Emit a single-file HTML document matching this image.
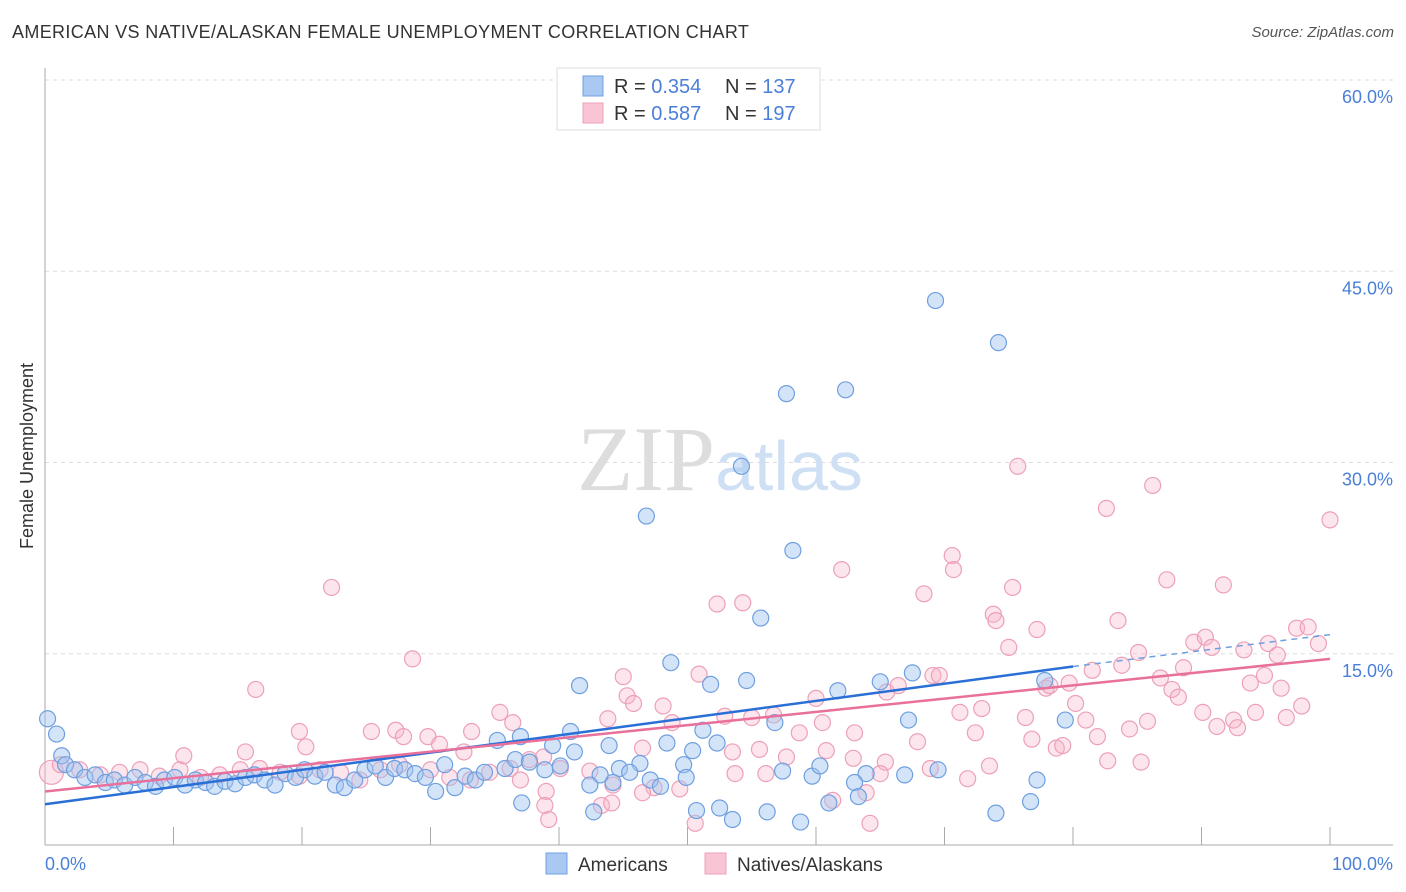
<!DOCTYPE html>
<html><head><meta charset="utf-8">
<style>
body{margin:0;background:#fff;font-family:"Liberation Sans",sans-serif;}
#wrap{position:relative;width:1406px;height:892px;overflow:hidden;}
.t{position:absolute;white-space:nowrap;}
</style></head>
<body>
<div id="wrap">
<div class="t" style="left:12px;top:22px;font-size:18px;color:#333;letter-spacing:0.35px">AMERICAN VS NATIVE/ALASKAN FEMALE UNEMPLOYMENT CORRELATION CHART</div>
<div class="t" style="right:12px;top:24px;font-size:15px;color:#555;font-style:italic">Source: ZipAtlas.com</div>
<svg id="chart" width="1406" height="892" style="position:absolute;left:0;top:0"></svg>
</div>
<script>
const xTickVals=[0,10,20,30,40,50,60,70,80,90,100];
const yTickVals=[15,30,45,60];
const yTickLabels=["15.0%","30.0%","45.0%","60.0%"];
const amX=[0.2,0.9,1.3,1.6,2.3,3.1,3.9,4.7,5.4,6.2,7.0,7.8,8.6,9.3,10.1,10.9,11.7,12.5,13.2,14.0,14.8,15.6,16.3,17.1,17.9,18.7,19.5,20.2,21.0,21.8,22.6,23.3,24.1,24.9,25.7,26.5,27.2,28.0,28.8,29.6,30.4,31.1,31.9,32.7,33.5,34.2,35.8,36.6,37.7,38.9,40.1,41.2,35.2,37.0,40.9,43.9,39.5,48.4,50.4,52.3,51.2,56.8,44.7,46.3,45.5,49.7,49.9,47.1,47.9,44.2,43.2,42.4,59.7,60.3,57.4,63.9,69.3,74.2,57.7,62.3,54.2,46.8,58.2,55.7,48.7,41.6,51.8,54.6,61.7,65.0,67.5,67.2,77.8,79.4,77.2,76.7,74.0,69.5,66.9,63.0,63.3,61.0,58.8,56.2,53.5,52.5,50.7,42.7,37.1];
const amY=[9.9,8.7,7.0,6.3,5.9,5.3,5.5,4.9,5.1,4.7,5.3,4.9,4.6,5.1,5.3,4.7,5.1,4.9,4.6,5.0,4.8,5.3,5.5,5.1,4.7,5.6,5.3,5.9,5.4,5.7,4.7,4.5,5.1,5.9,6.2,5.3,6.0,5.9,5.6,5.3,4.2,6.3,4.5,5.4,5.1,5.7,6.0,6.7,6.5,5.9,6.2,7.3,8.2,8.5,8.9,7.8,7.8,8.0,7.4,8.0,9.0,9.6,6.0,6.4,5.7,6.3,5.3,5.1,4.6,4.9,5.5,4.7,5.4,6.2,5.8,5.6,42.7,39.4,35.4,35.7,29.7,25.8,23.1,17.8,14.3,12.5,12.6,12.9,12.1,12.8,13.5,9.8,12.9,9.8,5.1,3.4,2.5,5.9,5.5,4.9,3.8,3.3,1.8,2.6,2.0,2.9,2.7,2.6,3.3];
const naX=[0.5,1.2,2.7,4.3,5.8,7.4,8.9,10.5,12.1,13.6,15.2,16.7,18.3,19.8,21.4,23.0,24.5,26.1,27.6,30.0,31.5,33.1,34.6,36.2,37.7,40.1,75.7,86.2,82.6,100,70.6,70.7,62.0,87.3,91.7,22.3,75.3,68.4,52.3,54.3,73.8,74.0,83.5,77.2,75.0,89.4,90.3,90.8,93.3,97.4,98.3,99.1,95.2,95.9,85.1,83.8,88.6,81.5,86.8,93.8,94.9,96.2,87.7,88.2,77.9,78.2,79.7,80.2,28.6,16.4,45.0,50.9,45.3,45.8,48.1,69.1,69.6,65.5,66.4,60.0,35.4,43.8,52.9,55.0,56.7,60.5,48.8,36.4,33.2,19.8,25.4,27.3,27.9,29.8,71.2,72.9,76.3,81.0,85.8,90.1,92.5,92.8,94.2,96.6,97.8,91.2,84.4,81.9,72.4,76.8,78.7,79.2,63.0,58.7,60.8,67.9,55.6,82.7,85.3,15.6,20.3,10.8,30.7,32.6,38.8,46.5,53.5,57.7,62.9,65.4,73.5,71.8,68.9,53.7,56.1,65.0,42.4,37.0,39.0,44.2,47.4,49.4,50.6,64.2,43.3,44.1,38.9,39.2,61.3,63.9,46.5];
const naY=[5.7,6.3,5.9,5.5,5.7,5.9,5.4,5.9,5.3,5.5,5.9,6.0,5.7,5.4,5.9,5.7,5.1,5.9,6.3,5.9,5.3,5.1,5.7,6.0,6.7,6.0,29.7,28.2,26.4,25.5,22.7,21.6,21.6,20.8,20.4,20.2,20.2,19.7,18.9,19.0,18.1,17.6,17.6,16.9,15.5,15.9,16.3,15.5,15.3,17.0,17.1,15.8,15.8,14.9,15.1,14.1,13.9,13.7,13.1,12.7,13.3,12.3,12.2,11.6,12.3,12.5,12.7,11.1,14.6,12.2,13.2,13.4,11.7,11.1,10.9,13.3,13.3,12.0,12.5,11.5,10.4,9.9,10.1,10.0,10.2,9.6,9.6,9.6,8.9,8.9,8.9,9.0,8.5,8.5,10.4,10.7,10.0,9.8,9.7,10.4,9.8,9.2,10.4,10.0,10.9,9.3,9.1,8.5,8.8,8.3,7.6,7.8,8.8,8.8,7.4,8.1,7.5,6.6,6.5,7.3,7.7,7.0,7.9,7.3,6.9,7.6,7.3,6.9,6.8,6.5,6.2,5.2,6.0,5.6,5.6,5.6,5.8,5.1,4.2,4.7,4.5,4.4,1.7,1.7,3.1,3.3,3.1,2.0,3.5,4.1,4.1];
const amLine=[3.2,14.0,16.5];
const naLine=[4.2,14.6];
const legendR=["0.354","0.587"], legendN=["137","197"];

const NS="http://www.w3.org/2000/svg", svg=document.getElementById('chart');
const X0=45,X1=1330,Y0=845,PY=12.75;
const sx=v=>X0+(X1-X0)*v/100, sy=v=>Y0-v*PY;
function mk(tag,at,parent){const e=document.createElementNS(NS,tag);for(const k in at)e.setAttribute(k,at[k]);(parent||svg).appendChild(e);return e;}
yTickVals.forEach((v,i)=>{
 const g=mk('line',{x1:X0,x2:1393,y1:sy(v),y2:sy(v),stroke:'#ddd','stroke-dasharray':'4,4'});
 
 
 const t=mk('text',{x:1393,y:sy(v)+23,'text-anchor':'end','font-size':18,fill:'#4a7fd8','font-family':'Liberation Sans'});
 t.textContent=yTickLabels[i];
 
 
});
const ax=mk('line',{x1:X0,x2:X0,y1:68,y2:Y0,stroke:'#aaa'});


const bx=mk('line',{x1:X0,x2:1393,y1:Y0,y2:Y0,stroke:'#aaa'});


xTickVals.forEach(v=>{const l=mk('line',{x1:sx(v),x2:sx(v),y1:Y0,y2:Y0-18,stroke:'#aaa'});
 
 });
[['0.0%',X0,'start'],['100.0%',1393,'end']].forEach(a=>{const t=mk('text',{x:a[1],y:870,'text-anchor':a[2],'font-size':18,fill:'#4a7fd8','font-family':'Liberation Sans'});t.textContent=a[0];
 
 });
const yt=mk('text',{x:0,y:0,transform:'translate(33,456) rotate(-90)','text-anchor':'middle','font-size':18,fill:'#333','font-family':'Liberation Sans'});
yt.textContent='Female Unemployment';


const wm=mk('text',{x:720,y:490,'text-anchor':'middle','font-size':92,'font-family':'Liberation Serif',fill:'#ddd'});
wm.innerHTML='ZIP<tspan fill="#cfe0f5" font-family="Liberation Sans" font-size="70">atlas</tspan>';


naX.forEach((x,i)=>{const c=mk('circle',{cx:sx(x),cy:sy(naY[i]),r:i==0?12:8,fill:'rgba(246,180,200,0.35)',stroke:'#eda0b8','stroke-width':1.2});
 
 });
amX.forEach((x,i)=>{const c=mk('circle',{cx:sx(x),cy:sy(amY[i]),r:8,fill:'rgba(160,196,240,0.45)',stroke:'#6f9fe0','stroke-width':1.2});
 
 });
const l1=mk('line',{x1:sx(0),y1:sy(amLine[0]),x2:sx(80),y2:sy(amLine[1]),stroke:'#2a6fd6','stroke-width':2.5});


const l1d=mk('line',{x1:sx(80),y1:sy(amLine[1]),x2:sx(100),y2:sy(amLine[2]),stroke:'#6f9fe0','stroke-width':1.5,'stroke-dasharray':'6,5'});


const l2=mk('line',{x1:sx(0),y1:sy(naLine[0]),x2:sx(100),y2:sy(naLine[1]),stroke:'#e8709a','stroke-width':2.5});


const lg=mk('g',{});


mk('rect',{x:557,y:68,width:263,height:62,fill:'#fff',stroke:'#ddd'},lg);
[['#a9c8f2','#6f9fe0'],['#f9c4d3','#eda0b8']].forEach((c,i)=>{
 const y=76+i*27;
 mk('rect',{x:583,y:y,width:20,height:20,fill:c[0],stroke:c[1]},lg);
 const t=mk('text',{x:614,y:y+17,'font-size':20,fill:'#333','font-family':'Liberation Sans'},lg);
 t.innerHTML='R = <tspan fill="#4a7fd8">'+legendR[i]+'</tspan><tspan x="725">N = </tspan><tspan fill="#4a7fd8">'+legendN[i]+'</tspan>';
 
 
});
[['Americans',546,'#a9c8f2','#6f9fe0'],['Natives/Alaskans',705,'#f9c4d3','#eda0b8']].forEach(a=>{
 const r=mk('rect',{x:a[1],y:853,width:21,height:21,fill:a[2],stroke:a[3]});
 
 
 const t=mk('text',{x:a[1]+32,y:871,'font-size':19,fill:'#333','font-family':'Liberation Sans'});
 t.textContent=a[0];
 
 
});
</script>
</body></html>
